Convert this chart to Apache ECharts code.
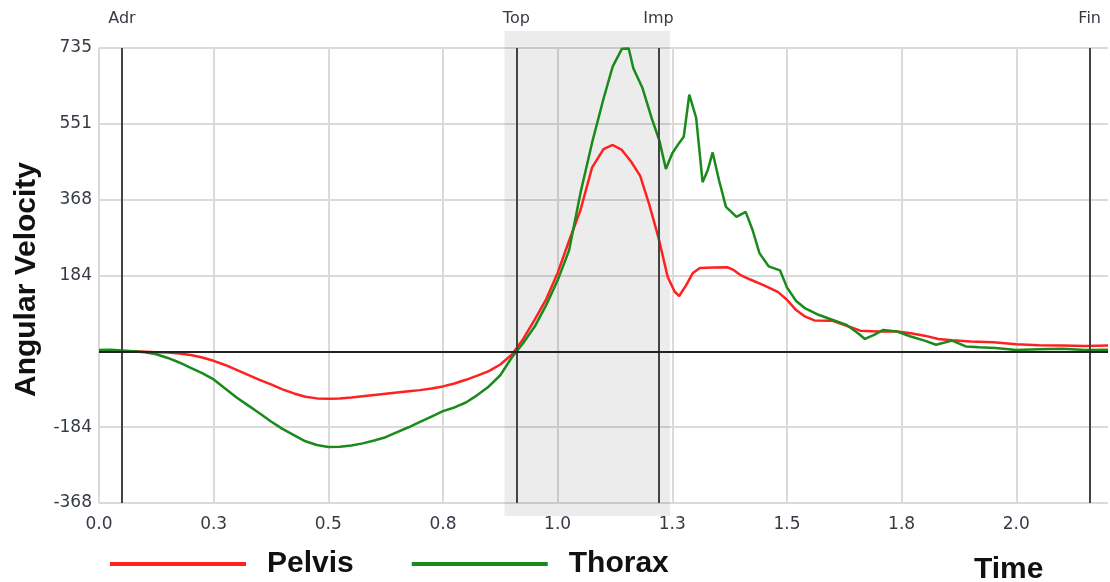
<!DOCTYPE html>
<html>
<head>
<meta charset="utf-8">
<script src="https://cdn.jsdelivr.net/npm/echarts@6/dist/echarts.min.js"></script>
<style>
  html, body { margin: 0; padding: 0; background: #fff; }
  #chart { width: 1110px; height: 582px; }
</style>
</head>
<body>
<div id="chart"></div>
<script>
// data (time in s, angular velocity)
var pelvisTime = [0, 0.025, 0.05, 0.075, 0.1, 0.125, 0.15, 0.175, 0.2, 0.225, 0.25, 0.275, 0.3, 0.325, 0.35, 0.375, 0.4, 0.425, 0.45, 0.475, 0.5, 0.525, 0.55, 0.575, 0.6, 0.625, 0.65, 0.675, 0.7, 0.725, 0.75, 0.775, 0.8, 0.825, 0.85, 0.875, 0.9, 0.925, 0.95, 0.975, 1.0, 1.025, 1.05, 1.075, 1.1, 1.12, 1.14, 1.16, 1.18, 1.2, 1.22, 1.24, 1.255, 1.265, 1.28, 1.295, 1.31, 1.34, 1.37, 1.385, 1.4, 1.42, 1.45, 1.48, 1.5, 1.52, 1.54, 1.56, 1.6, 1.63, 1.66, 1.7, 1.74, 1.77, 1.8, 1.83, 1.86, 1.9, 1.95, 2.0, 2.05, 2.1, 2.15, 2.2];
var pelvisVel = [0, 1, 0, 0, -1, -2, -3, -5, -9, -15, -23, -33, -45, -57, -69, -80, -92, -102, -110, -114, -115, -114, -112, -109, -106, -103, -100, -97, -94, -90, -85, -78, -69, -59, -48, -32, -8, 30, 77, 126, 190, 268, 343, 445, 490, 500, 488, 460, 425, 355, 275, 180, 145, 134, 160, 190, 202, 203, 204, 196, 184, 174, 160, 144, 125, 100, 84, 75, 74, 62, 50, 48, 48, 44, 38, 30, 27, 24, 22, 17, 15, 14, 13, 14];

var thoraxTime = [0, 0.025, 0.05, 0.075, 0.1, 0.125, 0.15, 0.175, 0.2, 0.225, 0.25, 0.275, 0.3, 0.325, 0.35, 0.375, 0.4, 0.425, 0.45, 0.475, 0.5, 0.525, 0.55, 0.575, 0.6, 0.625, 0.65, 0.675, 0.7, 0.725, 0.75, 0.775, 0.8, 0.825, 0.85, 0.875, 0.9, 0.925, 0.95, 0.975, 1.0, 1.025, 1.05, 1.075, 1.1, 1.12, 1.14, 1.155, 1.165, 1.185, 1.205, 1.222, 1.236, 1.25, 1.265, 1.275, 1.287, 1.302, 1.316, 1.327, 1.338, 1.352, 1.367, 1.39, 1.41, 1.425, 1.44, 1.46, 1.485, 1.5, 1.52, 1.54, 1.57, 1.6, 1.63, 1.655, 1.67, 1.69, 1.71, 1.74, 1.77, 1.8, 1.825, 1.86, 1.89, 1.92, 1.955, 2.0, 2.05, 2.1, 2.15, 2.2];
var thoraxVel = [3, 4, 2, 0, -2, -7, -16, -27, -40, -53, -68, -90, -112, -131, -150, -170, -188, -203, -218, -227, -232, -231, -228, -223, -216, -208, -196, -184, -171, -158, -145, -136, -124, -106, -85, -58, -15, 20, 60, 112, 172, 245, 385, 505, 612, 690, 733, 734, 686, 638, 565, 510, 442, 480, 505, 520, 622, 566, 410, 438, 482, 414, 350, 326, 338, 294, 238, 206, 196, 155, 122, 104, 88, 76, 64, 44, 30, 40, 52, 48, 36, 26, 16, 26, 12, 10, 8, 3, 5, 6, 3, 4];

// swing events and the downswing band
var eventNames = ['Adr', 'Top', 'Imp', 'Fin'];
var eventTimes = [0.048, 0.908, 1.222, 2.16];
var bandStart = 0.884;
var bandEnd = 1.245;

var chart = echarts.init(document.getElementById('chart'));

function toPairs(t, v) {
  return t.map(function (x, i) { return [x, v[i]]; });
}

var eventLines = eventNames.map(function (n, i) {
  return { name: n, xAxis: eventTimes[i] };
});
eventLines.push({ yAxis: 0, label: { show: false }, lineStyle: { color: '#222', width: 2 } });

var option = {
  animation: false,
  title: {
    text: 'Time',
    left: 969,
    top: 550,
    textStyle: { fontFamily: 'Liberation Sans', fontSize: 30, fontWeight: 'bold', color: '#111' }
  },
  legend: {
    left: 105,
    top: 544,
    icon: 'rect',
    itemWidth: 136,
    itemHeight: 4,
    itemGap: 58,
    textStyle: {
      fontFamily: 'Liberation Sans', fontSize: 30, fontWeight: 'bold', color: '#111',
      padding: [0, 0, 0, 16]
    },
    data: ['Pelvis', 'Thorax']
  },
  grid: [
    { left: 99, right: 2, top: 48, bottom: 79 },
    { left: 99, right: 2, top: 31, bottom: 66 }
  ],
  xAxis: [{
    type: 'value',
    min: 0,
    max: 2.2,
    interval: 0.25,
    axisLine: { show: false },
    axisTick: { show: false },
    axisLabel: {
      margin: 13,
      showMaxLabel: false,
      fontFamily: 'DejaVu Sans', fontSize: 17, color: '#363a44',
      formatter: function (v) { return v.toFixed(1); }
    },
    splitLine: { show: true, showMaxLine: false, lineStyle: { color: '#dadada', width: 2 } }
  }, {
    type: 'value', gridIndex: 1, min: 0, max: 2.2, show: false
  }],
  yAxis: [{
    type: 'value',
    min: -367.5,
    max: 735,
    interval: 183.75,
    name: 'Angular Velocity',
    nameLocation: 'middle',
    nameGap: 57,
    nameTextStyle: {
      fontFamily: 'Liberation Sans', fontSize: 30, fontWeight: 'bold', color: '#111',
      padding: [0, 8, 0, 0]
    },
    axisLine: { show: false },
    axisTick: { show: false },
    axisLabel: {
      margin: 7,
      fontFamily: 'DejaVu Sans', fontSize: 17, color: '#363a44',
      formatter: function (v) {
        if (v === 0) return '';
        return (v < 0 ? '-' : '') + Math.round(Math.abs(v));
      }
    },
    splitLine: { show: true, lineStyle: { color: '#dadada', width: 2 } }
  }, {
    type: 'value', gridIndex: 1, min: 0, max: 1, show: false
  }],
  series: [
    {
      name: 'band',
      type: 'line',
      xAxisIndex: 1,
      yAxisIndex: 1,
      data: [],
      silent: true,
      markArea: {
        silent: true,
        itemStyle: { color: 'rgba(0,0,0,0.075)' },
        data: [[{ xAxis: bandStart }, { xAxis: bandEnd }]]
      }
    },
    {
      name: 'Pelvis',
      type: 'line',
      data: toPairs(pelvisTime, pelvisVel),
      showSymbol: false,
      color: '#ff2020',
      lineStyle: { width: 2.5, color: '#ff2020' },
      emphasis: { disabled: true },
      markLine: {
        silent: true,
        symbol: ['none', 'none'],
        lineStyle: { color: '#444', width: 2, type: 'solid' },
        label: {
          position: 'end',
          distance: 21,
          formatter: '{b}',
          fontFamily: 'DejaVu Sans', fontSize: 16, color: '#363a44'
        },
        data: eventLines
      }
    },
    {
      name: 'Thorax',
      type: 'line',
      data: toPairs(thoraxTime, thoraxVel),
      showSymbol: false,
      color: '#1a8a1a',
      lineStyle: { width: 2.5, color: '#1a8a1a' },
      emphasis: { disabled: true }
    }
  ]
};

chart.setOption(option);
</script>
</body>
</html>
